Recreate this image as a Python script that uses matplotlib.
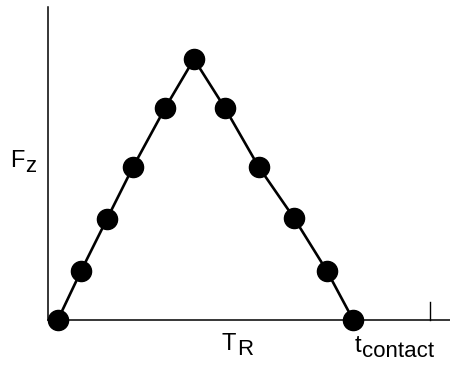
import matplotlib
matplotlib.use("Agg")
import matplotlib.pyplot as plt

# Normalised time over the contact and the vertical force at each sample
t = [0.0, 0.078, 0.166, 0.254, 0.363, 0.461, 0.566, 0.681, 0.800, 0.912, 1.0]
fz = [0.0, 0.186, 0.386, 0.585, 0.812, 1.0, 0.812, 0.585, 0.39, 0.186, 0.0]
t_end_tick = 1.261

W, H = 450, 366
fig = plt.figure(figsize=(W / 100, H / 100), dpi=100)
ax = fig.add_axes([48 / W, (H - 319.5) / H, 1 - 48 / W, (319.5 - 7) / H])

ax.plot(t, fz, color="black", lw=1.9, marker="o", ms=14.5, mfc="black", mec="black",
        clip_on=False, zorder=3)

ax.set_xlim(-0.0339, 1.329)
ax.set_ylim(0, 1.2)
for s in ("top", "right"):
    ax.spines[s].set_visible(False)
for s in ("left", "bottom"):
    ax.spines[s].set_linewidth(1.1)
ax.set_xticks([])
ax.set_yticks([])

# Short end-of-window mark on the time axis
ax.plot([t_end_tick, t_end_tick], [0, 0.066], color="black", lw=1.0, clip_on=False)

fam = ["Liberation Sans", "DejaVu Sans"]


def label(x, y, main, sub, size=17, subsize=16, dx=0.5, dy=5):
    """Place a letter with a lowered subscript, positions in pixels from top-left."""
    txt = fig.text(x / W, 1 - y / H, main, fontsize=size, family=fam,
                   ha="left", va="baseline")
    fig.canvas.draw()
    bb = txt.get_window_extent()
    fig.text((bb.x1 + dx) / W, 1 - (y + dy) / H, sub, fontsize=subsize,
             family=fam, ha="left", va="baseline")


label(10, 167, "F", "z")
label(222, 350, "T", "R")
label(355, 352, "t", "contact")

fig.savefig("out.png", dpi=100)
